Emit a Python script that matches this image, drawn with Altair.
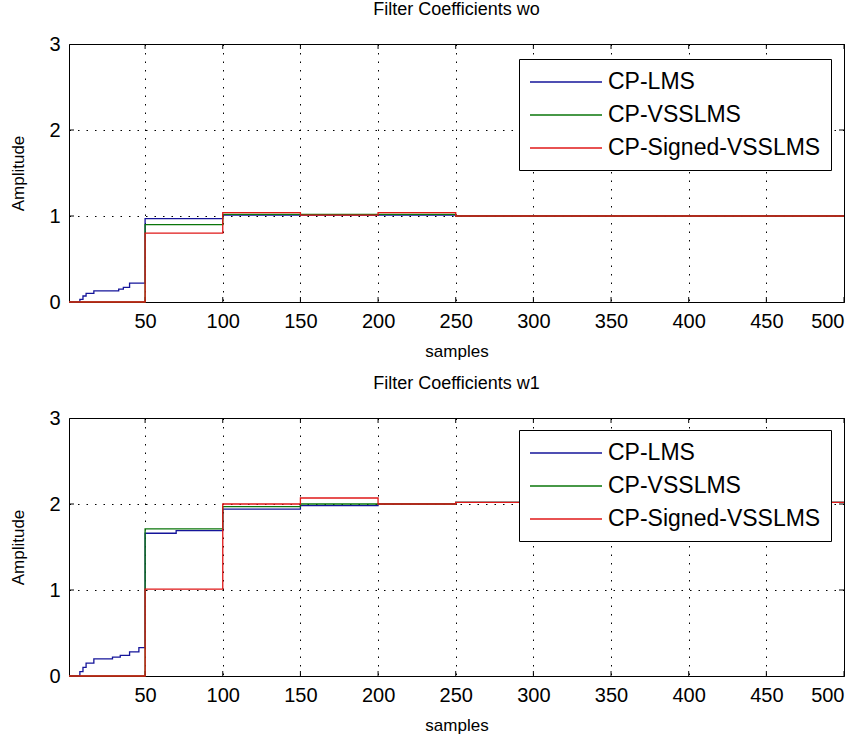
import altair as alt
import pandas as pd

series_names = ["CP-LMS", "CP-VSSLMS", "CP-Signed-VSSLMS"]
series_colors = ["#14149a", "#0a760a", "#e01818"]

# ---- Filter Coefficients wo ----
w0_lms_x = [1, 8, 10, 12, 17, 33, 36, 40, 50, 100, 250, 500]
w0_lms_y = [0, 0.03, 0.07, 0.10, 0.13, 0.15, 0.17, 0.22, 0.97, 1.01, 1.0, 1.0]
w0_vss_x = [1, 50, 100, 250, 500]
w0_vss_y = [0, 0.90, 1.02, 1.0, 1.0]
w0_sgn_x = [1, 50, 100, 150, 200, 250, 500]
w0_sgn_y = [0, 0.80, 1.04, 1.01, 1.04, 1.0, 1.0]

# ---- Filter Coefficients w1 ----
w1_lms_x = [1, 8, 10, 12, 17, 29, 34, 40, 46, 50, 70, 100, 150, 200, 250, 500]
w1_lms_y = [0, 0.05, 0.10, 0.15, 0.20, 0.22, 0.24, 0.28, 0.33, 1.66, 1.69, 1.94, 1.98, 2.0, 2.02, 2.02]
w1_vss_x = [1, 50, 100, 150, 200, 250, 500]
w1_vss_y = [0, 1.71, 1.97, 2.0, 2.0, 2.02, 2.02]
w1_sgn_x = [1, 50, 100, 150, 200, 250, 500]
w1_sgn_y = [0, 1.01, 2.0, 2.07, 2.0, 2.02, 2.02]

x_ticks = [50, 100, 150, 200, 250, 300, 350, 400, 450, 500]
y_ticks = [0, 1, 2, 3]

W, H = 775, 258
FONT = "Liberation Sans"


def make_df(xs_list, ys_list):
    rows = []
    for name, xs, ys in zip(series_names, xs_list, ys_list):
        for x, y in zip(xs, ys):
            rows.append({"samples": x, "Amplitude": y, "series": name})
    return pd.DataFrame(rows)


color_scale = alt.Scale(domain=series_names, range=series_colors)
x_scale = alt.Scale(domain=[1, 500], nice=False, zero=False)
y_scale = alt.Scale(domain=[0, 3], nice=False)


def panel(df, title, legend_y):
    base = alt.Chart(df)
    layers = []
    xtick_df = pd.DataFrame({"t": x_ticks})
    ytick_df = pd.DataFrame({"t": y_ticks[1:-1]})

    # inward ticks
    tb = alt.Chart(xtick_df).mark_rule(color="black", strokeWidth=1).encode(
        x=alt.X("t:Q", scale=x_scale), y=alt.value(H), y2=alt.value(H - 5))
    tt = alt.Chart(xtick_df).mark_rule(color="black", strokeWidth=1).encode(
        x=alt.X("t:Q", scale=x_scale), y=alt.value(0), y2=alt.value(5))
    tl = alt.Chart(ytick_df).mark_rule(color="black", strokeWidth=1).encode(
        y=alt.Y("t:Q", scale=y_scale), x=alt.value(0), x2=alt.value(5))
    tr = alt.Chart(ytick_df).mark_rule(color="black", strokeWidth=1).encode(
        y=alt.Y("t:Q", scale=y_scale), x=alt.value(W), x2=alt.value(W - 5))

    for i, name in enumerate(series_names):
        legend = None
        if i == 0:
            legend = alt.Legend(
                title=None, orient="none", legendX=450, legendY=legend_y,
                direction="vertical",
                symbolType="M-1,0H5", symbolSize=576, symbolStrokeWidth=1.3,
                labelFont=FONT, labelFontSize=23, labelColor="black",
                labelOffset=53, rowPadding=8, padding=10,
                strokeColor="black", fillColor="white",
                labelLimit=400,
            )
        ln = base.transform_filter(alt.datum.series == name).mark_line(
            interpolate="step-after", strokeWidth=1.3
        ).encode(
            x=alt.X("samples:Q", scale=x_scale,
                    axis=alt.Axis(values=x_ticks, title="samples", grid=True,
                                  tickSize=0, domain=False, labelPadding=9,
                                  titlePadding=12)),
            y=alt.Y("Amplitude:Q", scale=y_scale,
                    axis=alt.Axis(values=y_ticks, format="d", title="Amplitude",
                                  grid=True, tickSize=0, domain=False,
                                  labelPadding=9, titlePadding=21)),
            color=alt.Color("series:N", scale=color_scale, legend=legend),
        )
        layers.append(ln)

    return alt.layer(tb, tt, tl, tr, *layers).properties(
        width=W, height=H,
        title=alt.TitleParams(title, font=FONT, fontSize=18, fontWeight="normal",
                              color="black", offset=15),
    )


df0 = make_df([w0_lms_x, w0_vss_x, w0_sgn_x], [w0_lms_y, w0_vss_y, w0_sgn_y])
df1 = make_df([w1_lms_x, w1_vss_x, w1_sgn_x], [w1_lms_y, w1_vss_y, w1_sgn_y])

p0 = panel(df0, "Filter Coefficients wo", 15)
p1 = panel(df1, "Filter Coefficients w1", 12)

chart = alt.vconcat(p0, p1, spacing=14).resolve_scale(color="independent").properties(
    padding={"left": 9, "top": 0, "right": 10, "bottom": 0},
    background="white",
).configure_view(
    stroke="black", strokeWidth=1
).configure_axis(
    labelFont=FONT, labelFontSize=20, labelColor="black",
    titleFont=FONT, titleFontSize=17, titleFontWeight="normal", titleColor="black",
    gridColor="black", gridDash=[1.5, 7], gridOpacity=1, gridWidth=1,
)

chart.save("out.html", embed_options={"renderer": "svg", "actions": False})
